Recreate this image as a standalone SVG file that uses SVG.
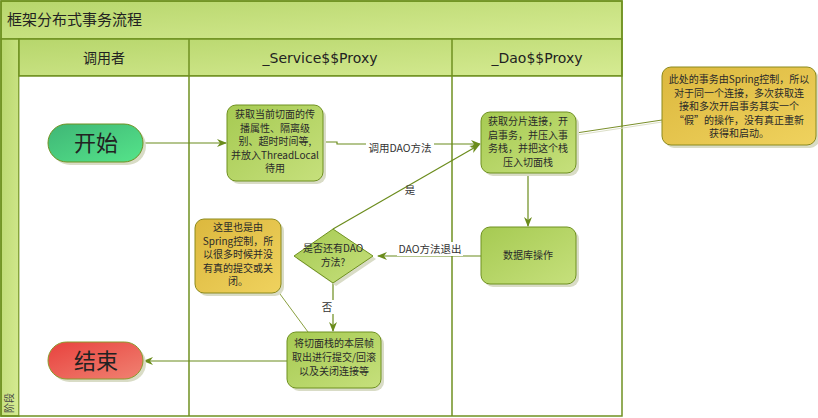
<svg xmlns="http://www.w3.org/2000/svg" width="818" height="418" viewBox="0 0 818 418">
<defs>
<linearGradient id="gBar" x1="0" y1="0" x2="1" y2="1"><stop offset="0" stop-color="#b7d66c"/><stop offset="1" stop-color="#d6eb93"/></linearGradient>
<linearGradient id="gBox" x1="0" y1="0" x2="1" y2="1"><stop offset="0" stop-color="#a6ca52"/><stop offset="1" stop-color="#c6e07c"/></linearGradient>
<linearGradient id="gNote" x1="0" y1="0" x2="1" y2="1"><stop offset="0" stop-color="#dcb83e"/><stop offset="1" stop-color="#efd25e"/></linearGradient>
<linearGradient id="gStart" x1="0" y1="0" x2="1" y2="1"><stop offset="0" stop-color="#3fb676"/><stop offset="1" stop-color="#55e48a"/></linearGradient>
<linearGradient id="gEnd" x1="0" y1="0" x2="1" y2="1"><stop offset="0" stop-color="#e8423e"/><stop offset="1" stop-color="#f08272"/></linearGradient>
<marker id="arr" viewBox="0 0 10 10" refX="9" refY="5" markerWidth="10" markerHeight="10" markerUnits="userSpaceOnUse" orient="auto"><path d="M0,1 L10,5 L0,9 L3,5 z" fill="#6b8c1c"/></marker>
</defs>
<style>
.frame{fill:none;stroke:#6f9120;stroke-width:1.5}
.bar{fill:url(#gBar);stroke:#6f9120;stroke-width:1.5}
.lane{stroke:#6f9120;stroke-width:1.5}
.box{fill:url(#gBox);stroke:#6f9120;stroke-width:1}
.note{fill:url(#gNote);stroke:#8c8a1c;stroke-width:1}
.shadow{fill:#d9dcc6}
.t{font-family:"DejaVu Sans","Noto Sans CJK SC",sans-serif;fill:#222;text-anchor:middle}
.bt{font-family:"Noto Sans CJK SC","DejaVu Sans",sans-serif;font-size:10px;fill:#2a2a2a;text-anchor:middle}
.h{font-size:14px}
.lbl{font-family:"Noto Sans CJK SC","DejaVu Sans",sans-serif;font-size:10.5px;fill:#333;text-anchor:middle}
.c{fill:none;stroke:#6b8c1c;stroke-width:1.2}
</style>
<rect x="0" y="0" width="818" height="418" fill="#ffffff"/>
<g id="pool">
<rect class="bar" x="1" y="1" width="621" height="38"/>
<text class="t" x="7" y="25" style="text-anchor:start;font-size:15px">框架分布式事务流程</text>
<rect class="bar" x="1" y="39" width="18" height="377"/>
<rect class="bar" x="19" y="39" width="603" height="37"/>
<rect x="19.5" y="76" width="602" height="340" fill="#ffffff"/>
<line class="lane" x1="189" y1="39" x2="189" y2="416"/>
<line class="lane" x1="452" y1="39" x2="452" y2="416"/>
<line class="lane" x1="19" y1="76" x2="622" y2="76"/>
<rect class="frame" x="1" y="1" width="621" height="415"/>
<text class="t h" x="104" y="63">调用者</text>
<text class="t h" x="320" y="63">_Service$$Proxy</text>
<text class="t h" x="537" y="63">_Dao$$Proxy</text>
<text class="t" x="0" y="0" transform="translate(13,403) rotate(-90)" style="font-size:10px;fill:#444">阶段</text>
</g>
<g id="connectors">
<line class="c" x1="143" y1="143" x2="226" y2="143" marker-end="url(#arr)"/>
<polyline class="c" points="323,142 337,142 337,144 480,144" marker-end="url(#arr)"/>
<rect x="366" y="141" width="68" height="14" fill="#fff"/>
<text class="lbl" x="400" y="152">调用DAO方法</text>
<line class="c" x1="333" y1="229" x2="479" y2="145" marker-end="url(#arr)"/>
<text class="lbl" x="410" y="194">是</text>
<line class="c" x1="528" y1="173" x2="528" y2="226" marker-end="url(#arr)"/>
<line class="c" x1="481" y1="256" x2="378" y2="256" marker-end="url(#arr)"/>
<rect x="397" y="242" width="66" height="14" fill="#fff"/>
<text class="lbl" x="430" y="253">DAO方法退出</text>
<line class="c" x1="333" y1="283" x2="333" y2="331" marker-end="url(#arr)"/>
<rect x="320" y="300" width="14" height="14" fill="#fff"/>
<text class="lbl" x="327" y="311">否</text>
<line class="c" x1="287" y1="361" x2="144" y2="361" marker-end="url(#arr)"/>
<line x1="577" y1="135" x2="662" y2="122" stroke="#dcdfc8" stroke-width="1"/>
<line x1="576" y1="133" x2="662" y2="120" stroke="#7a8f2a" stroke-width="1"/>
<line x1="280" y1="294" x2="308" y2="332" stroke="#8aa040" stroke-width="1"/>
</g>
<g id="start">
<rect class="shadow" x="51" y="127" width="95" height="38" rx="19"/>
<rect x="48" y="124" width="95" height="38" rx="19" fill="url(#gStart)" stroke="#6f9120" stroke-width="1"/>
<text class="t" x="96" y="151" style="font-size:22px;font-family:'Noto Sans CJK SC',sans-serif">开始</text>
</g>
<g id="end">
<rect class="shadow" x="51" y="345" width="95" height="37" rx="18.5"/>
<rect x="48" y="342" width="95" height="37" rx="18.5" fill="url(#gEnd)" stroke="#8a9a2a" stroke-width="1"/>
<text class="t" x="96" y="369" style="font-size:22px;font-family:'Noto Sans CJK SC',sans-serif">结束</text>
</g>
<g id="box1">
<rect class="shadow" x="230" y="108" width="96" height="76" rx="9"/>
<rect class="box" x="227" y="105" width="96" height="76" rx="9"/>
<text class="bt" x="275" y="118">获取当前切面的传</text>
<text class="bt" x="275" y="131.5">播属性、隔离级</text>
<text class="bt" x="275" y="145">别、超时时间等,</text>
<text class="bt" x="275" y="158.5">并放入ThreadLocal</text>
<text class="bt" x="275" y="172">待用</text>
</g>
<g id="box2">
<rect class="shadow" x="484" y="115" width="95" height="61" rx="9"/>
<rect class="box" x="481" y="112" width="95" height="61" rx="9"/>
<text class="bt" x="528" y="125">获取分片连接，开</text>
<text class="bt" x="528" y="138.5">启事务，并压入事</text>
<text class="bt" x="528" y="152">务栈，并把这个栈</text>
<text class="bt" x="528" y="165.5">压入切面栈</text>
</g>
<g id="box3">
<rect class="shadow" x="484" y="230" width="95" height="57" rx="9"/>
<rect class="box" x="481" y="227" width="95" height="57" rx="9"/>
<text class="bt" x="528" y="259">数据库操作</text>
</g>
<g id="decision">
<path d="M336,232 L376,259 L336,286 L297,259 Z" class="shadow"/>
<path d="M333,229 L373,256 L333,283 L294,256 Z" class="box" stroke-linejoin="round"/>
<text class="bt" x="333" y="252">是否还有DAO</text>
<text class="bt" x="333" y="266">方法?</text>
</g>
<g id="box4">
<rect class="shadow" x="290" y="335" width="94" height="56" rx="9"/>
<rect class="box" x="287" y="332" width="94" height="56" rx="9"/>
<text class="bt" x="334" y="347">将切面栈的本层帧</text>
<text class="bt" x="334" y="361">取出进行提交/回滚</text>
<text class="bt" x="334" y="375">以及关闭连接等</text>
</g>
<g id="note1">
<rect class="shadow" x="665" y="70" width="154" height="78" rx="9"/>
<rect class="note" x="662" y="67" width="154" height="78" rx="9"/>
<text class="bt" x="739" y="83">此处的事务由Spring控制，所以</text>
<text class="bt" x="739" y="96.5">对于同一个连接，多次获取连</text>
<text class="bt" x="739" y="110">接和多次开启事务其实一个</text>
<text class="bt" x="739" y="123.5">“假”的操作，没有真正重新</text>
<text class="bt" x="739" y="137">获得和启动。</text>
</g>
<g id="note2">
<rect class="shadow" x="198" y="222" width="86" height="74" rx="9"/>
<rect class="note" x="195" y="219" width="86" height="74" rx="9"/>
<text class="bt" x="238" y="231">这里也是由</text>
<text class="bt" x="238" y="244.5">Spring控制，所</text>
<text class="bt" x="238" y="258">以很多时候并没</text>
<text class="bt" x="238" y="271.5">有真的提交或关</text>
<text class="bt" x="238" y="285">闭。</text>
</g>
</svg>
